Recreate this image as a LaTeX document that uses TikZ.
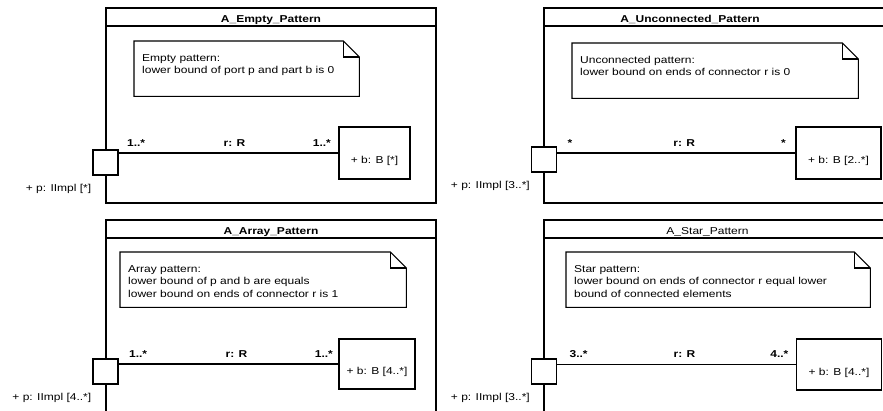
\documentclass[tikz,border=0pt]{standalone}
\usepackage{fontspec}
\setmainfont{Liberation Sans}[FakeStretch=1.2]
\tikzset{
  uml/.style={line width=1.1pt},
  port/.style={uml, draw, fill=white, minimum size=25pt, inner sep=0pt},
  part/.style={uml, draw, minimum height=52pt, inner sep=0pt, text height=21pt, text depth=0pt},
  note/.style={anchor=north west, inner xsep=8pt, inner ysep=13pt, text height=7.2pt, text depth=21.8pt, align=left},
  mult/.style={font=\bfseries, inner sep=0pt},
  portlabel/.style={anchor=east, inner sep=0pt},
  title/.style={anchor=base, inner sep=0pt},
}
\begin{document}
\fontsize{10}{12.5}\selectfont
\begin{tikzpicture}[x=1pt,y=-1pt]
	\newcommand{\dogear}[1]{%
		\draw[uml] (#1.north west) -- ([xshift=-16pt]#1.north east) -- ([yshift=-16pt]#1.north east) -- (#1.south east) -- (#1.south west) -- cycle;
		\draw[uml] ([xshift=-16pt]#1.north east) |- ([yshift=-16pt]#1.north east);}
	\useasboundingbox (0,0) rectangle (883,411);
	\fill[white] (0,0) rectangle (883,411);
	\clip (0,0) rectangle (883,411);
	% frames with title bar
	\foreach \fx/\fy/\fw in {106/8/330, 544/8/400, 106/220/330, 544/220/400}
	{
		\draw[uml] (\fx,\fy) rectangle ++(\fw,195);
		\draw[uml] (\fx,\fy+18) -- ++(\fw,0);
	}
	% A_Empty_Pattern
	\node[title, font=\bfseries] (t1) at (271,22.5) {A\_Empty\_Pattern};
	\node[note, text width=209pt] (n1) at (134,41) {Empty pattern:\\lower bound of port p and part b is 0};
	\dogear{n1}
	\node[port] (p1) at (105.5,162.5) {};
	\node[portlabel] (pl1) at ([shift={(-1,13)}]p1.south west) {+ p: IImpl [*]};
	\node[part, minimum width=71pt] (b1) at (374.5,153) {+ b: B [*]};
	\draw[uml] (p1.east |- b1.west) -- (b1.west)
		node[mult, pos=0, anchor=base west, xshift=8pt, yshift=6.5pt] (m1a) {1..*}
		node[mult, midway, anchor=base, xshift=6pt, yshift=6.5pt] (r1) {r: R}
		node[mult, pos=1, anchor=base east, xshift=-7pt, yshift=6.5pt] (m1b) {1..*};
	% A_Unconnected_Pattern
	\node[title, font=\bfseries] (t2) at (690,22.5) {A\_Unconnected\_Pattern};
	\node[note, text width=270pt] (n2) at (572,43) {Unconnected pattern:\\lower bound on ends of connector r is 0};
	\dogear{n2}
	\node[port] (p2) at (544,159.5) {};
	\node[portlabel] (pl2) at ([shift={(-1,13)}]p2.south west) {+ p: IImpl [3..*]};
	\node[part, minimum width=85pt] (b2) at (838.5,153) {+ b: B [2..*]};
	\draw[uml] (p2.east |- b2.west) -- (b2.west)
		node[mult, pos=0, anchor=base west, xshift=10pt, yshift=6.5pt] (m2a) {*}
		node[mult, midway, anchor=base, xshift=8pt, yshift=6.5pt] (r2) {r: R}
		node[mult, pos=1, anchor=base east, xshift=-9pt, yshift=6.5pt] (m2b) {*};
	% A_Array_Pattern
	\node[title, font=\bfseries] (t3) at (271,234.5) {A\_Array\_Pattern};
	\node[note, text width=270pt] (n3) at (120,252) {Array pattern:\\lower bound of p and b are equals\\lower bound on ends of connector r is 1};
	\dogear{n3}
	\node[port] (p3) at (105.5,371.5) {};
	\node[portlabel] (pl3) at ([shift={(-1,13)}]p3.south west) {+ p: IImpl [4..*]};
	\node[part, minimum width=76pt, minimum height=50pt] (b3) at (377,364) {+ b: B [4..*]};
	\draw[uml] (p3.east |- b3.west) -- (b3.west)
		node[mult, pos=0, anchor=base west, xshift=10pt, yshift=6.5pt] (m3a) {1..*}
		node[mult, midway, anchor=base, xshift=8pt, yshift=6.5pt] (r3) {r: R}
		node[mult, pos=1, anchor=base east, xshift=-5pt, yshift=6.5pt] (m3b) {1..*};
	% A_Star_Pattern
	\node[title] (t4) at (707.5,234.5) {A\_Star\_Pattern};
	\node[note, text width=288pt] (n4) at (566,252) {Star pattern:\\lower bound on ends of connector r equal lower\\bound of connected elements};
	\dogear{n4}
	\node[port] (p4) at (544,371.5) {};
	\node[portlabel] (pl4) at ([shift={(-1,13)}]p4.south west) {+ p: IImpl [3..*]};
	\node[part, minimum width=85pt, minimum height=51pt] (b4) at (839,364.5) {+ b: B [4..*]};
	\draw[uml] (p4.east |- b4.west) -- (b4.west)
		node[mult, pos=0, anchor=base west, xshift=12pt, yshift=6.5pt] (m4a) {3..*}
		node[mult, midway, anchor=base, xshift=8pt, yshift=6.5pt] (r4) {r: R}
		node[mult, pos=1, anchor=base east, xshift=-7pt, yshift=6.5pt] (m4b) {4..*};
\end{tikzpicture}
\end{document}
